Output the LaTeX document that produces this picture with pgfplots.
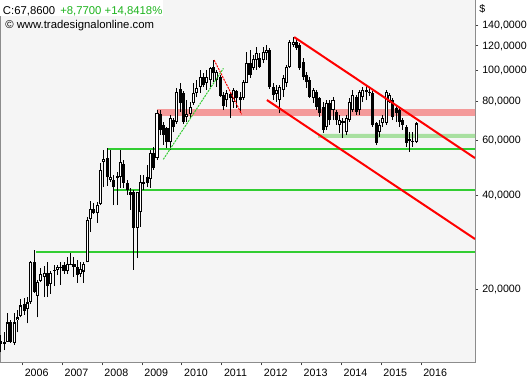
\documentclass[border=0pt]{standalone}
\usepackage{pgfplots}
\pgfplotsset{compat=1.18}
\usepackage{pgfplotstable}
\usepackage{fontspec}
\setmainfont{Liberation Sans}
\definecolor{plotbg}{HTML}{F5F5F5}
\definecolor{framegray}{HTML}{8C8C8C}
\definecolor{lgreen}{HTML}{32CD32}
\definecolor{bandred}{HTML}{F49A9A}
\definecolor{bandgreen}{HTML}{A8E0A0}
\definecolor{txtgreen}{HTML}{1EB41E}
\pgfplotstableread{
x o h l c
-7 13.7 14.3 12.6 13.4
-6 13.4 14.6 12.8 13.6
-5 13.6 16.8 13.6 15.7
-4 15.7 16.0 13.5 13.6
-3 13.5 16.8 13.3 15.7
-2 16.0 17.2 14.6 16.3
-1 16.4 18.6 16.3 17.8
0 18.0 18.8 16.6 17.1
1 17.3 18.9 15.6 18.2
2 18.2 24.7 18.0 24.5
3 24.4 26.8 19.5 19.7
4 19.1 21.4 16.3 21.1
5 21.3 23.5 21.1 22.4
6 21.9 23.8 18.9 22.6
7 22.6 24.4 18.9 20.5
8 20.8 22.9 19.4 22.6
9 22.9 24.0 20.5 23.1
10 23.1 24.0 22.3 23.6
11 23.5 24.4 20.7 23.6
12 24.0 24.4 22.4 22.9
13 22.9 25.4 22.4 24.2
14 24.0 26.2 24.0 24.2
15 24.2 25.4 21.9 23.6
16 23.6 24.9 21.0 22.3
17 22.4 24.5 21.9 23.3
18 22.8 24.4 21.0 24.2
19 24.4 34.1 24.4 33.4
20 33.6 38.3 30.5 36.1
21 36.1 37.8 34.9 35.1
22 35.1 38.1 32.7 37.2
23 37.5 50.8 37.2 48.2
24 51.1 55.8 42.5 52.2
25 52.6 56.7 42.9 45.8
26 44.8 55.8 44.1 45.8
27 44.8 46.5 37.2 42.5
28 45.4 47.5 37.2 46.1
29 45.8 55.8 42.2 51.1
30 50.4 51.9 42.2 43.8
31 43.8 44.8 40.1 41.6
32 41.0 42.2 35.9 40.1
33 41.0 41.6 23.1 31.5
34 31.5 41.0 25.2 41.0
35 35.4 46.5 31.7 44.1
36 43.5 46.5 41.6 44.1
37 45.8 50.0 42.5 43.8
38 45.1 55.8 42.2 54.6
39 54.6 57.1 48.2 48.9
40 52.6 74.9 51.9 73.3
41 72.7 74.9 62.4 64.7
42 67.1 68.6 57.9 62.4
43 65.6 66.1 56.7 59.2
44 59.2 72.2 55.8 70.6
45 69.6 70.6 63.7 66.1
46 68.6 88.0 67.6 85.5
47 87.4 91.4 73.8 78.8
48 84.9 86.2 67.6 68.6
49 71.1 80.6 68.6 72.7
50 72.7 79.4 70.6 76.5
51 78.8 91.4 77.7 84.9
52 84.9 93.4 82.4 88.0
53 88.7 100.6 84.9 95.5
54 95.5 98.4 88.7 90.0
55 91.4 100.6 86.8 95.5
56 93.4 102.8 88.7 102.0
57 102.8 108.2 92.0 98.4
58 93.4 100.6 88.7 99.1
59 95.5 97.0 82.4 83.0
60 83.7 85.5 74.9 77.1
61 80.6 86.8 76.5 84.9
62 84.3 84.9 70.6 81.8
63 79.4 88.0 76.0 86.8
64 86.2 86.8 76.0 81.8
65 82.4 85.5 73.3 80.6
66 81.8 93.4 80.6 92.0
67 91.4 114.8 91.4 105.8
68 105.8 116.5 94.8 97.0
69 102.0 112.3 100.6 109.0
70 108.2 119.1 100.6 113.9
71 109.8 113.9 102.0 102.8
72 108.2 119.1 105.8 114.8
73 113.9 120.9 108.2 116.5
74 116.5 118.2 87.4 88.7
75 88.7 91.4 80.6 83.7
76 84.3 90.0 79.4 86.8
77 80.6 90.0 73.3 88.7
78 86.8 97.0 82.4 94.8
79 91.4 104.3 88.7 102.8
80 102.8 125.4 102.0 123.6
81 120.9 128.1 119.1 123.6
82 123.6 126.2 116.5 118.2
83 120.9 122.7 100.6 102.0
84 106.6 109.8 93.4 95.5
85 97.0 99.1 88.0 92.0
86 93.4 95.5 81.8 82.4
87 81.8 88.0 78.8 86.8
88 85.5 86.8 74.9 76.5
89 81.8 82.4 71.1 73.3
90 76.5 79.4 63.3 64.7
91 66.1 80.6 64.7 78.8
92 78.8 80.6 67.1 69.6
93 74.9 82.4 69.6 80.6
94 73.8 74.9 67.1 69.6
95 67.1 72.2 63.3 69.6
96 68.1 70.6 61.0 69.1
97 63.7 72.2 62.4 70.6
98 69.6 81.8 68.6 79.4
99 74.9 86.8 73.8 83.7
100 82.4 83.7 72.2 73.8
101 74.9 86.8 72.2 85.5
102 82.4 88.7 79.4 86.8
103 85.5 90.0 80.6 86.8
104 85.5 88.0 83.0 84.9
105 84.9 86.2 66.1 67.1
106 68.1 68.6 57.9 58.8
107 63.7 69.6 61.4 67.1
108 68.1 72.2 66.1 70.6
109 68.1 86.8 67.1 85.5
110 79.4 84.9 78.8 83.7
111 80.6 81.8 69.6 71.1
112 76.0 77.7 68.6 73.3
113 74.9 76.5 66.1 68.6
114 69.6 70.6 64.7 67.1
115 66.1 67.1 57.1 58.8
116 59.7 63.7 55.0 60.5
117 59.7 63.7 57.1 59.1
118 59.3 68.6 58.8 67.86
}\candles
\pgfplotsset{
  candle/.style n args={2}{draw=none, mark=none, forget plot,
    error bars/.cd, y dir=plus, y explicit, error mark=none,
    error bar style={draw=#1, line width=#2, line cap=butt}},
}
\begin{document}
\begin{tikzpicture}
\path[use as bounding box] (0pt,0pt) rectangle (397.5pt,-284.25pt);
\begin{axis}[name=ax,
  at={(0pt,0pt)}, anchor=north west,
  scale only axis, width=356.25pt, height=271.5pt,
  xmin=-7.275, xmax=135.75, ymode=log, ymin=11.73, ymax=168.3,
  axis background/.style={fill=plotbg},
  axis line style={framegray, line width=0.75pt},
  xtick={-0.5,11.5,23.5,35.5,47.5,59.5,71.5,83.5,95.5,107.5,119.5},
  xticklabels={2006,2007,2008,2009,2010,2011,2012,2013,2014,2015,2016},
  ytick={20,40,60,80,100,120,140},
  yticklabels={{20,0000},{40,0000},{60,0000},{80,0000},{100,0000},{120,0000},{140,0000}},
  yminorticks=false, xminorticks=false,
  xtick pos=bottom, ytick pos=right, yticklabel pos=right,
  tick align=outside, major tick length=2.5pt,
  tick style={black!75, line width=0.75pt},
  ticklabel style={font=\fontsize{8}{9.6}\selectfont, inner sep=0pt},
  xticklabel style={anchor=north west, xshift=1.5pt, yshift=-2.75pt},
  yticklabel style={anchor=west, xshift=2.75pt},
  every axis plot/.append style={line cap=butt},
]
% bands
\addplot[fill=bandred, draw=none, forget plot] coordinates {(40,71.7) (135.75,71.7) (135.75,75.4) (40,75.4) (40,71.7)};
\addplot[fill=bandgreen, draw=none, forget plot] coordinates {(88.5,61.0) (135.75,61.0) (135.75,62.8) (88.5,62.8) (88.5,61.0)};
% support lines
\addplot[lgreen, line width=1.5pt, forget plot] coordinates {(3.6,26.4) (135.75,26.4)};
\addplot[lgreen, line width=1.5pt, forget plot] coordinates {(25,56.2) (135.75,56.2)};
\addplot[lgreen, line width=1.5pt, forget plot] coordinates {(26.8,41.6) (135.75,41.6)};
% candles: wicks
\addplot[candle={black}{0.75pt}]
  table[x=x, y=l, y error expr={\thisrow{h}-\thisrow{l}}] {\candles};
% black bodies
\addplot[candle={black}{2.3pt}]
  table[x=x, y=c, y error expr={max(\thisrow{o}-\thisrow{c},0)}] {\candles};
% white bodies: outline
\addplot[candle={black}{2.3pt}]
  table[x=x, y=o, y error expr={max(\thisrow{c}-\thisrow{o},0)}] {\candles};
% white bodies: interior
\addplot[candle={white}{0.8pt}]
  table[x=x, y expr={\thisrow{o}*1.009}, y error expr={max(\thisrow{c}/1.009-\thisrow{o}*1.009,0)}] {\candles};
% trend lines
\addplot[red, line width=1.5pt, forget plot] coordinates {(81.3,128.1) (135.75,52.6)};
\addplot[red, line width=1.5pt, forget plot] coordinates {(73.1,80.6) (135.75,29.0)};
\addplot[red, line width=0.75pt, dash pattern=on 1.5pt off 0.75pt, forget plot] coordinates {(57.2,108.2) (65.5,72.6)};
\addplot[lgreen, line width=0.75pt, dash pattern=on 1.5pt off 0.75pt, forget plot] coordinates {(41.9,52.1) (60.0,101.8)};
\end{axis}
\fill[white] (ax.north west) rectangle ++(122.5pt,-12pt);
\node[anchor=base west, inner sep=0pt, font=\fontsize{8.5}{10}\selectfont] at ([xshift=2pt,yshift=-10.5pt]ax.north west) {C:67,8600\, \textcolor{txtgreen}{+8,7700 +14,8418\%}};
\node[anchor=base west, inner sep=0pt, font=\fontsize{8.5}{10}\selectfont] at ([xshift=3.75pt,yshift=-21.5pt]ax.north west) {© www.tradesignalonline.com};
\node[anchor=north west, inner sep=0pt, font=\fontsize{8}{9.6}\selectfont] at ([xshift=3pt,yshift=-3pt]ax.north east) {\$};
\end{tikzpicture}
\end{document}
